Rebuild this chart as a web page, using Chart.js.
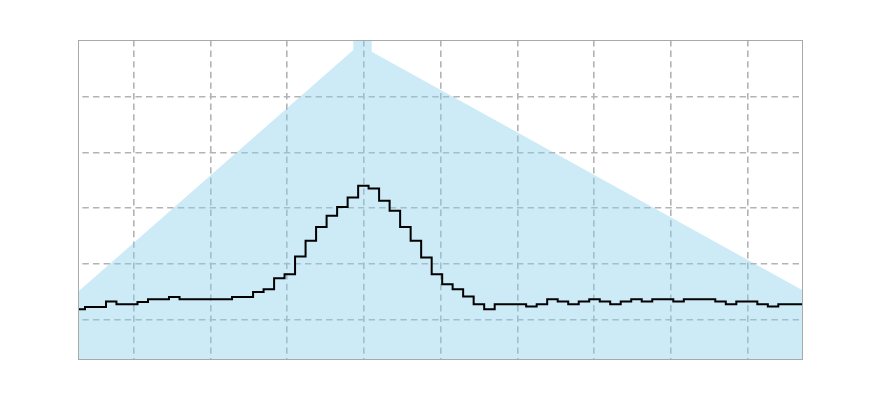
<!DOCTYPE html>
<html>
<head>
<meta charset="utf-8">
<script src="https://cdn.jsdelivr.net/npm/chart.js@4"></script>
<style>
  html, body { margin: 0; padding: 0; background: #ffffff; }
  #c { display: block; }
</style>
</head>
<body>
<canvas id="c" width="880" height="420"></canvas>
<script>
// ---- data ----
// histogram bin edges (x units; vertical grid lines sit on whole numbers)
const binEdges = [
  -4.772, -4.635, -4.498, -4.361, -4.225, -4.088, -3.951, -3.814, -3.677, -3.540,
  -3.403, -3.266, -3.130, -2.993, -2.856, -2.719, -2.582, -2.445, -2.308, -2.171,
  -2.035, -1.898, -1.761, -1.624, -1.487, -1.350, -1.213, -1.076, -0.940, -0.803,
  -0.666, -0.529, -0.392, -0.255, -0.118, 0.019, 0.155, 0.292, 0.429, 0.566,
  0.703, 0.840, 0.977, 1.113, 1.250, 1.387, 1.524, 1.661, 1.798, 1.935,
  2.072, 2.208, 2.345, 2.482, 2.619, 2.756, 2.893, 3.030, 3.167, 3.303,
  3.440, 3.577, 3.714, 3.851, 3.988, 4.125, 4.262, 4.398, 4.535, 4.672,
  4.809
];
// histogram heights, one per bin
const binValues = [
  1.18, 1.22, 1.22, 1.32, 1.27, 1.27, 1.31, 1.36, 1.36, 1.40,
  1.36, 1.36, 1.36, 1.36, 1.36, 1.40, 1.40, 1.49, 1.54, 1.74,
  1.81, 2.13, 2.41, 2.66, 2.86, 3.02, 3.19, 3.40, 3.35, 3.13,
  2.95, 2.66, 2.41, 2.11, 1.81, 1.63, 1.54, 1.41, 1.27, 1.18,
  1.27, 1.27, 1.27, 1.23, 1.27, 1.36, 1.32, 1.27, 1.32, 1.36,
  1.32, 1.27, 1.32, 1.36, 1.32, 1.36, 1.36, 1.32, 1.36, 1.36,
  1.36, 1.32, 1.27, 1.32, 1.32, 1.27, 1.23, 1.27, 1.27, 1.27
];
// shaded band outline (upper edge), filled down to the bottom of the axes
const bandX = [-4.726, -1.139, -1.139, -0.900, -0.900, 4.720];
const bandY = [1.494, 5.839, 8.0, 8.0, 5.809, 1.518];
// grid positions (no tick labels are shown)
const xGrid = [-4, -3, -2, -1, 0, 1, 2, 3, 4];
const yGrid = [1, 2, 3, 4, 5];
const xRange = [-4.726, 4.720];
const yRange = [0.269, 6.019];

// ---- build library structures ----
const stepPoints = binValues.map((v, i) => ({ x: binEdges[i], y: v }));
stepPoints.push({ x: binEdges[binValues.length], y: binValues[binValues.length - 1] });
const bandPoints = bandX.map((x, i) => ({ x: x, y: bandY[i] }));

const framePlugin = {
  id: 'frame',
  afterDraw(chart) {
    const a = chart.chartArea, ctx = chart.ctx;
    ctx.save();
    ctx.strokeStyle = '#a9a9a9';
    ctx.lineWidth = 1;
    ctx.setLineDash([]);
    ctx.strokeRect(a.left + 0.5, a.top + 0.5, a.right - a.left - 1, a.bottom - a.top - 1);
    ctx.restore();
  }
};

const gridCommon = {
  color: '#b3b3b3',
  lineWidth: 1.6,
  drawTicks: false,
  drawOnChartArea: true
};

new Chart(document.getElementById('c'), {
  type: 'line',
  data: {
    datasets: [
      {
        label: 'histogram',
        data: stepPoints,
        stepped: true,
        borderColor: '#000000',
        borderWidth: 2,
        borderJoinStyle: 'miter',
        pointRadius: 0,
        fill: false,
        tension: 0,
        clip: 0,
        order: 0
      },
      {
        label: 'band',
        data: bandPoints,
        borderWidth: 0,
        borderColor: 'rgba(0,0,0,0)',
        backgroundColor: 'rgba(135,206,235,0.42)',
        pointRadius: 0,
        fill: 'start',
        tension: 0,
        clip: 0,
        order: 1
      }
    ]
  },
  options: {
    responsive: false,
    animation: false,
    devicePixelRatio: 1,
    layout: { padding: { left: 78, right: 77, top: 40, bottom: 60 } },
    plugins: {
      legend: { display: false },
      tooltip: { enabled: false },
      title: { display: false }
    },
    scales: {
      x: {
        type: 'linear',
        min: xRange[0],
        max: xRange[1],
        border: { display: false, dash: [6.4, 4.2], dashOffset: 0 },
        ticks: { display: false },
        grid: Object.assign({}, gridCommon, { borderDash: [6.4, 4.2], borderDashOffset: 0 }),
        afterBuildTicks(scale) { scale.ticks = xGrid.map(v => ({ value: v })); }
      },
      y: {
        type: 'linear',
        min: yRange[0],
        max: yRange[1],
        border: { display: false, dash: [6.4, 4.2], dashOffset: 6.2 },
        ticks: { display: false },
        grid: Object.assign({}, gridCommon, { borderDash: [6.4, 4.2], borderDashOffset: 6.2 }),
        afterBuildTicks(scale) { scale.ticks = yGrid.map(v => ({ value: v })); }
      }
    }
  },
  plugins: [framePlugin]
});
</script>
</body>
</html>
